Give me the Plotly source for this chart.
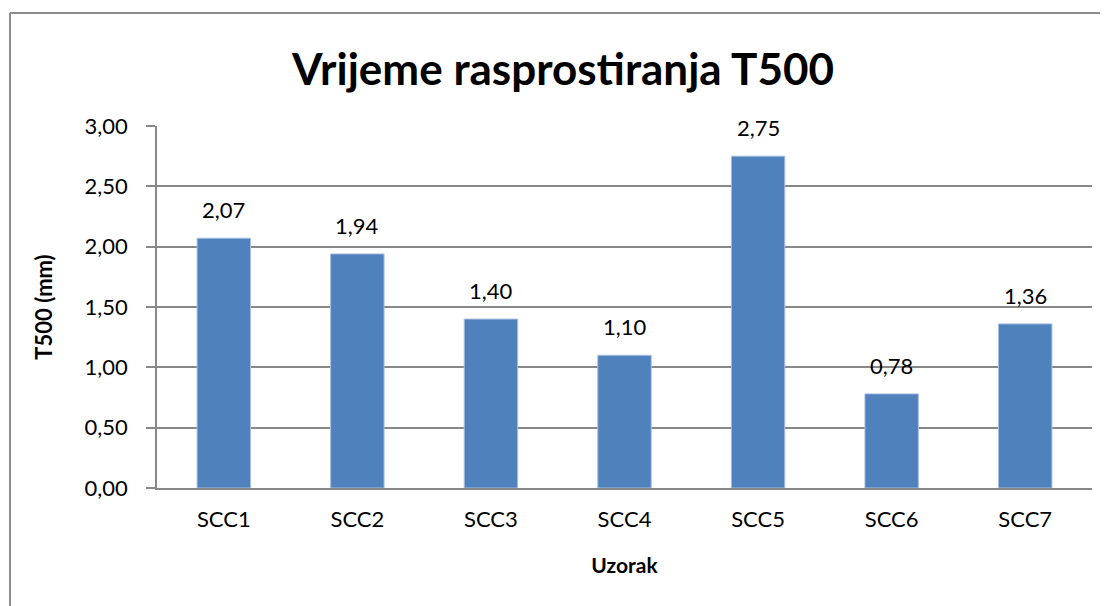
import plotly.graph_objects as go

categories = ["SCC1", "SCC2", "SCC3", "SCC4", "SCC5", "SCC6", "SCC7"]
values = [2.07, 1.94, 1.40, 1.10, 2.75, 0.78, 1.36]
y_ticks = [0, 0.5, 1.0, 1.5, 2.0, 2.5, 3.0]
y_tick_labels = ["0,00", "0,50", "1,00", "1,50", "2,00", "2,50", "3,00"]
value_labels = [f"{v:.2f}".replace(".", ",") for v in values]

FONT = "Lato"
# page body has an 8px margin, so the figure is offset by 8px
W, H = 1100, 598
L, R, T, B = 149, 16, 118, 118
PW, PH = W - L - R, H - T - B

fig = go.Figure(go.Bar(
    x=categories, y=values,
    marker=dict(color="#4F81BD", line=dict(color="#A7BFDE", width=1)),
))

for c, v, t in zip(categories, values, value_labels):
    fig.add_annotation(x=c, y=v, text=t, showarrow=False, yanchor="bottom",
                       yshift=13, font=dict(family=FONT, size=22, color="black"))

grid = "#888888"
fig.update_layout(
    width=W, height=H,
    margin=dict(l=L, r=R, t=T, b=B),
    paper_bgcolor="white", plot_bgcolor="white",
    bargap=0.6,
    showlegend=False,
    font=dict(family=FONT, size=22, color="black"),
    title=dict(text="<b>Vrijeme rasprostiranja T500</b>", x=555 / W, xanchor="center",
               y=1 - 62 / H, yanchor="middle",
               font=dict(family=FONT, size=44, color="black")),
    xaxis=dict(showgrid=False, showline=True, linecolor=grid, linewidth=1.5,
               ticks="", ticklabelstandoff=11, tickfont=dict(family=FONT, size=22),
               title=dict(text="<b>Uzorak</b>", font=dict(family=FONT, size=21), standoff=27)),
    yaxis=dict(range=[0, 3], tickvals=y_ticks, ticktext=y_tick_labels,
               showgrid=True, gridcolor=grid, gridwidth=1.5,
               showline=True, linecolor=grid, linewidth=1.5,
               ticks="outside", ticklen=9, tickcolor=grid, tickwidth=1.5,
               ticklabelstandoff=14,
               tickfont=dict(family=FONT, size=22), zeroline=False,
               title=dict(text="<b>T500 (mm)</b>", font=dict(family=FONT, size=22), standoff=26)),
    shapes=[
        dict(type="line", xref="paper", yref="paper",
             x0=-(L - 2) / PW, x1=(W - L + 10) / PW,
             y0=1 + (T - 5) / PH, y1=1 + (T - 5) / PH,
             line=dict(color="#8c8c8c", width=2)),
        dict(type="line", xref="paper", yref="paper",
             x0=-(L - 2) / PW, x1=-(L - 2) / PW,
             y0=1 + (T - 5) / PH, y1=-(B + 10) / PH,
             line=dict(color="#8c8c8c", width=2)),
    ],
)

fig.write_html("out.html")
